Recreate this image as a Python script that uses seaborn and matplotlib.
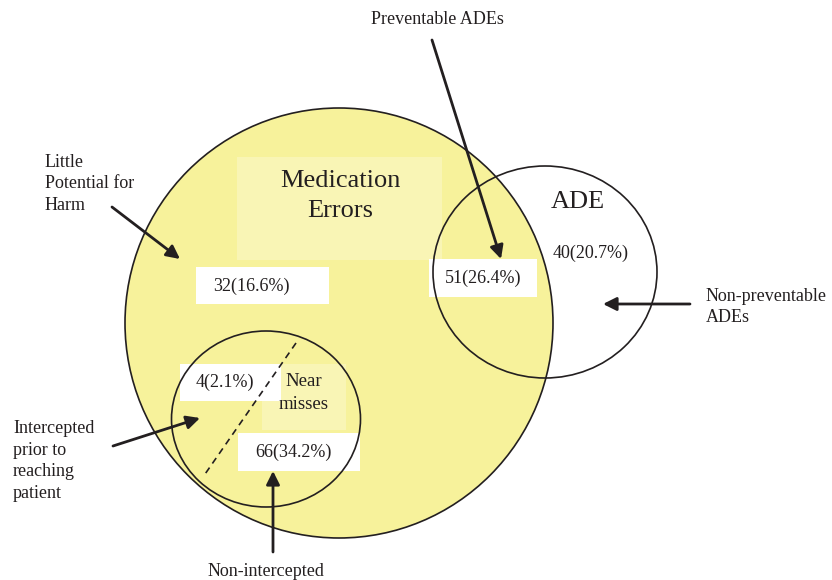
import matplotlib
matplotlib.use("Agg")
import matplotlib.pyplot as plt
from matplotlib.patches import Ellipse, Rectangle
import seaborn as sns

# chart values (counts and shares of medication errors / ADEs)
segments = ["little_harm", "preventable", "non_preventable", "intercepted", "non_intercepted"]
counts = [32, 51, 40, 4, 66]
percents = [16.6, 26.4, 20.7, 2.1, 34.2]

set_titles = ["Medication\nErrors", "ADE", "Near\nmisses"]
callouts = ["Little\nPotential for\nHarm", "Preventable ADEs", "Non-preventable\nADEs",
            "Intercepted\nprior to\nreaching\npatient", "Non-intercepted"]

# layout in pixel units (y downwards)
value_pos = {"little_harm": (251, 286), "preventable": (483, 278), "non_preventable": (591, 253),
             "intercepted": (225, 382), "non_intercepted": (293, 452)}
value_box = {"little_harm": (196, 267, 133, 37), "preventable": (429, 259, 108, 38),
             "intercepted": (180, 364, 101, 37), "non_intercepted": (238, 433, 122, 38)}

sns.set_theme(style="white")
plt.rcParams["font.family"] = ["Liberation Serif", "DejaVu Serif"]
ink = "#231f20"

fig = plt.figure(figsize=(8.32, 5.8), dpi=100)
ax = fig.add_axes([0, 0, 1, 1])
ax.set_xlim(0, 832)
ax.set_ylim(580, 0)
ax.axis("off")

yellow = "#f7f29b"
light = "#f9f5b5"

# big circle
ax.add_patch(Ellipse((339, 323), 428, 430, facecolor=yellow, edgecolor="none", zorder=1))
# light title panels
ax.add_patch(Rectangle((237, 157), 205, 103, facecolor=light, edgecolor="none", zorder=2))
ax.add_patch(Rectangle((262, 364), 84, 66, facecolor=light, edgecolor="none", zorder=2))

# white value boxes
for k, (x, y, w, h) in value_box.items():
    ax.add_patch(Rectangle((x, y), w, h, facecolor="white", edgecolor="none", zorder=3))

# outlines on top
ax.add_patch(Ellipse((339, 323), 428, 430, facecolor="none", edgecolor=ink, lw=1.2, zorder=4))
ax.add_patch(Ellipse((545, 272), 224, 212, facecolor="none", edgecolor=ink, lw=1.2, zorder=4))
ax.add_patch(Ellipse((266, 419), 189, 176, facecolor="none", edgecolor=ink, lw=1.2, zorder=4))
ax.plot([296, 203], [343, 477], ls=(0, (4, 3)), color=ink, lw=1.2, zorder=4)

# set titles
ax.text(340, 196, set_titles[0], ha="center", va="center", fontsize=19, color=ink,
        linespacing=1.42, zorder=5)
ax.text(578, 202, set_titles[1], ha="center", va="center", fontsize=19, color=ink, zorder=5)
ax.text(304, 393, set_titles[2], ha="center", va="center", fontsize=13.5, color=ink,
        linespacing=1.45, zorder=5)

# values
for seg, c, p in zip(segments, counts, percents):
    x, y = value_pos[seg]
    ax.text(x, y, f"{c}({p}%)", ha="center", va="center", fontsize=13, color=ink, zorder=5)

# callout labels
ax.text(45, 184, callouts[0], ha="left", va="center", fontsize=13, color=ink, linespacing=1.34)
ax.text(437, 20, callouts[1], ha="center", va="center", fontsize=13, color=ink)
ax.text(706, 307, callouts[2], ha="left", va="center", fontsize=13, color=ink, linespacing=1.34)
ax.text(13, 461, callouts[3], ha="left", va="center", fontsize=13, color=ink, linespacing=1.34)
ax.text(266, 571, callouts[4], ha="center", va="center", fontsize=13, color=ink)

arrow = dict(arrowstyle="-|>", lw=2, color=ink, mutation_scale=20, shrinkA=0, shrinkB=0)
for start, tip in [((112, 207), (180, 259)), ((432, 40), (501, 259)),
                   ((690, 304), (603, 304)), ((113, 446), (200, 418)),
                   ((273, 552), (273, 471))]:
    ax.annotate("", xy=tip, xytext=start, arrowprops=arrow, zorder=6)

fig.savefig("out.png", dpi=100)
